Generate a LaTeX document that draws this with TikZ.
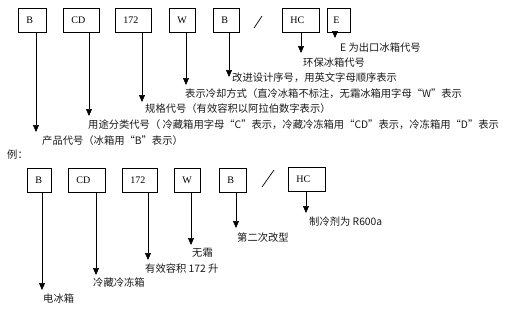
\documentclass[tikz,border=0pt]{standalone}
\usepackage{fontspec}
\setmainfont{Liberation Serif}
\newfontfamily\cjk{Noto Sans CJK SC}
\usetikzlibrary{arrows.meta}

\begin{document}
\begin{tikzpicture}[x=1pt, y=-1pt,
        cbox/.style={draw, line width=0.7pt, minimum height=24pt,
                    inner xsep=8pt, text width=#1, anchor=north west,
                    font=\fontsize{10}{11}\selectfont},
        lbl/.style={anchor=west, inner sep=0pt, text=black!90,
                    font=\cjk\fontsize{10.3}{11}\selectfont},
        pointer/.style={-{Triangle[width=6pt,length=7pt]}, line width=0.7pt}
    ]
    \useasboundingbox (0,0) rectangle (510,311);

    % Code boxes
    \node[cbox=12pt] (prod)  at (18,8)  {B};
    \node[cbox=20pt] (usage) at (63,8)  {CD};
    \node[cbox=20pt] (spec)  at (115,8) {172};
    \node[cbox=10pt] (cool)  at (169,8) {W};
    \node[cbox=10pt] (rev)   at (213,8) {B};
    \node[cbox=21pt] (hc)    at (282,8) {HC};
    \node[cbox=11pt, inner xsep=6pt] (exp) at (327,8) {E};
    \draw[line width=0.7pt] (254,28) -- (262,16);

    % Meanings
    \node[lbl] (expT)   at (340,48)  {E 为出口冰箱代号};
    \node[lbl] (hcT)    at (303,63)  {环保冰箱代号};
    \node[lbl] (revT)   at (232,78)  {改进设计序号，用英文字母顺序表示};
    \node[lbl] (coolT)  at (185,94)  {表示冷却方式（直冷冰箱不标注，无霜冰箱用字母“W”表示};
    \node[lbl] (specT)  at (145,109) {规格代号（有效容积以阿拉伯数字表示）};
    \node[lbl] (usageT) at (88,125)  {用途分类代号（ 冷藏箱用字母“C”表示，冷藏冷冻箱用“CD”表示，冷冻箱用“D”表示};
    \node[lbl] (prodT)  at (42,141)  {产品代号（冰箱用“B”表示）};

    % Arrow ends
    \coordinate (prodP)  at (36,132);
    \coordinate (usageP) at (89,116);
    \coordinate (specP)  at (142,102);
    \coordinate (coolP)  at (186,85);
    \coordinate (revP)   at (229,77);
    \coordinate (hcP)    at (301,53);
    \coordinate (expP)   at (335,38);

    \draw[pointer] (prod.south -| prodP)   -- (prodP);
    \draw[pointer] (usage.south -| usageP) -- (usageP);
    \draw[pointer] (spec.south -| specP)   -- (specP);
    \draw[pointer] (cool.south -| coolP)   -- (coolP);
    \draw[pointer] (rev.south -| revP)     -- (revP);
    \draw[pointer] (hc.south -| hcP)       -- (hcP);
    \draw[pointer] (exp.south -| expP)     -- (expP);

    % Example
    \node[lbl] (eg) at (7,155) {例：};

    \node[cbox=8pt]  (xprod)  at (27,168)  {B};
    \node[cbox=21pt] (xusage) at (68,168)  {CD};
    \node[cbox=19pt] (xspec)  at (122,168) {172};
    \node[cbox=10pt] (xcool)  at (174,168) {W};
    \node[cbox=11pt] (xrev)   at (219,168) {B};
    \node[cbox=21pt] (xhc)    at (288,167) {HC};
    \draw[line width=0.7pt] (262,187) -- (274,170);

    \node[lbl] (xprodT)  at (43,299)  {电冰箱};
    \node[lbl] (xusageT) at (93,283)  {冷藏冷冻箱};
    \node[lbl] (xspecT)  at (145,269) {有效容积 172 升};
    \node[lbl] (xcoolT)  at (192,253) {无霜};
    \node[lbl] (xrevT)   at (237,238) {第二次改型};
    \node[lbl] (xhcT)    at (309,222) {制冷剂为 R600a};

    \coordinate (xprodP)  at (42,290);
    \coordinate (xusageP) at (96,275);
    \coordinate (xspecP)  at (148,260);
    \coordinate (xcoolP)  at (191,245);
    \coordinate (xrevP)   at (236,228);
    \coordinate (xhcP)    at (306,213);

    \draw[pointer] (xprod.south -| xprodP)   -- (xprodP);
    \draw[pointer] (xusage.south -| xusageP) -- (xusageP);
    \draw[pointer] (xspec.south -| xspecP)   -- (xspecP);
    \draw[pointer] (xcool.south -| xcoolP)   -- (xcoolP);
    \draw[pointer] (xrev.south -| xrevP)     -- (xrevP);
    \draw[pointer] (xhc.south -| xhcP)       -- (xhcP);

\end{tikzpicture}
\end{document}
